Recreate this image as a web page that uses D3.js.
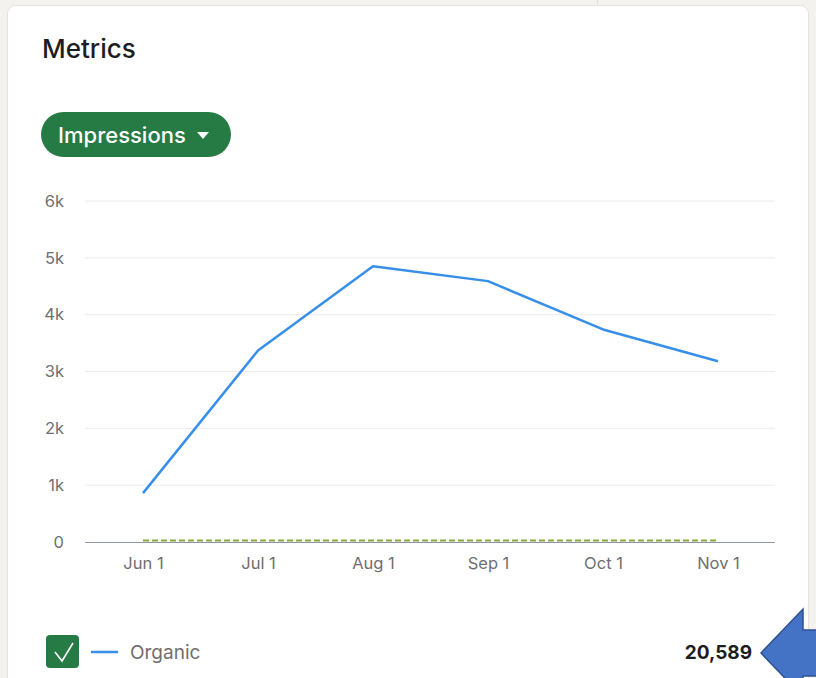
<!DOCTYPE html>
<html>
<head>
<meta charset="utf-8">
<script src="https://cdn.jsdelivr.net/npm/d3@7"></script>
<style>
  html, body { margin: 0; padding: 0; background: #f3f2ef; }
  svg { display: block; font-family: Inter, "Liberation Sans", Arial, sans-serif; }
</style>
</head>
<body>
<svg width="816" height="678"></svg>
<script>
// data
const months = ["Jun 1", "Jul 1", "Aug 1", "Sep 1", "Oct 1", "Nov 1"];
const organic = [860, 3370, 4850, 4590, 3740, 3180];
const paid = [25, 25, 25, 25, 25, 25];
const yTicks = [0, 1000, 2000, 3000, 4000, 5000, 6000];
const yTickLabels = ["0", "1k", "2k", "3k", "4k", "5k", "6k"];
const totalLabel = "20,589";

var svg = d3.select("svg");

// page background bits
svg.append("rect").attr("x", 0).attr("y", 0).attr("width", 816).attr("height", 678).attr("fill", "#f3f2ef");
svg.append("line").attr("x1", 597.5).attr("x2", 597.5).attr("y1", 0).attr("y2", 5).attr("stroke", "#e2e1de");

// card
svg.append("rect")
  .attr("x", 7.5).attr("y", 5.5).attr("width", 801).attr("height", 700)
  .attr("rx", 8)
  .attr("fill", "#fff").attr("stroke", "#e3e2df");

// title
svg.append("text")
  .attr("x", 42).attr("y", 58)
  .attr("font-size", 26).attr("font-weight", 500).attr("fill", "#1d1d1d")
  .text("Metrics");

// dropdown pill
const pill = svg.append("g");
pill.append("rect")
  .attr("x", 41).attr("y", 112).attr("width", 190).attr("height", 45)
  .attr("rx", 22.5).attr("fill", "#267a43");
pill.append("text")
  .attr("x", 58).attr("y", 142.5)
  .attr("font-size", 22).attr("font-weight", 500).attr("fill", "#fff")
  .text("Impressions");
pill.append("path")
  .attr("d", "M197,132 L209,132 L203,139 Z")
  .attr("fill", "#fff");

// chart
const x = d3.scalePoint().domain(months).range([143, 718]);
const y = d3.scaleLinear().domain([0, 6000]).range([542, 201]);

const grid = svg.append("g");
grid.selectAll("line")
  .data(yTicks.slice(1))
  .enter()
  .append("line")
    .attr("x1", 85).attr("x2", 775)
    .attr("y1", d => y(d)).attr("y2", d => y(d))
    .attr("stroke", "#ececec").attr("stroke-width", 1);

const yAxis = svg.append("g")
  .attr("transform", "translate(64,0)")
  .call(d3.axisLeft(y).tickValues(yTicks).tickFormat((d, i) => yTickLabels[i]).tickSize(0).tickPadding(0));
yAxis.select(".domain").remove();
yAxis.selectAll("text")
  .attr("font-size", 16.5).attr("fill", "#6f6f6f").attr("font-family", "Inter, Arial, sans-serif");

const xAxis = svg.append("g")
  .attr("transform", "translate(0,542)")
  .call(d3.axisBottom(x).tickSize(0).tickPadding(15));
xAxis.select(".domain").remove();
xAxis.selectAll("text")
  .attr("font-size", 16.5).attr("fill", "#6f6f6f").attr("font-family", "Inter, Arial, sans-serif");

// base line
svg.append("line")
  .attr("x1", 85).attr("x2", 775)
  .attr("y1", y(0) + 0.5).attr("y2", y(0) + 0.5)
  .attr("stroke", "#8d97a8").attr("stroke-width", 1);

const line = d3.line()
  .x((d, i) => x(months[i]))
  .y(d => y(d));

svg.append("path")
  .datum(paid)
  .attr("d", line)
  .attr("fill", "none")
  .attr("stroke", "#8aa93c").attr("stroke-width", 2)
  .attr("stroke-dasharray", "6,3");

svg.append("path")
  .datum(organic)
  .attr("d", line)
  .attr("fill", "none")
  .attr("stroke", "#378fe9").attr("stroke-width", 2.5)
  .attr("stroke-linejoin", "round");

// legend
const legend = svg.append("g");
legend.append("rect")
  .attr("x", 46).attr("y", 635).attr("width", 33).attr("height", 33)
  .attr("rx", 4).attr("fill", "#267a43");
legend.append("path")
  .attr("d", "M55,652 L62,661 L73,643")
  .attr("fill", "none").attr("stroke", "#fff").attr("stroke-width", 1.6);
legend.append("line")
  .attr("x1", 91).attr("x2", 118).attr("y1", 652).attr("y2", 652)
  .attr("stroke", "#378fe9").attr("stroke-width", 2.5);
legend.append("text")
  .attr("x", 130).attr("y", 658.5)
  .attr("font-size", 19).attr("fill", "#6f6f6f")
  .text("Organic");
legend.append("text")
  .attr("x", 752).attr("y", 658.5)
  .attr("text-anchor", "end")
  .attr("font-size", 19).attr("font-weight", 700).attr("fill", "#1d1d1d")
  .text(totalLabel);

// callout arrow
svg.append("path")
  .attr("d", "M761,653 L803,609 L803,630 L830,630 L830,676 L803,676 L803,697 Z")
  .attr("fill", "#4472c4").attr("stroke", "#2f528f").attr("stroke-width", 1.5)
  .attr("stroke-linejoin", "miter");
</script>
</body>
</html>
